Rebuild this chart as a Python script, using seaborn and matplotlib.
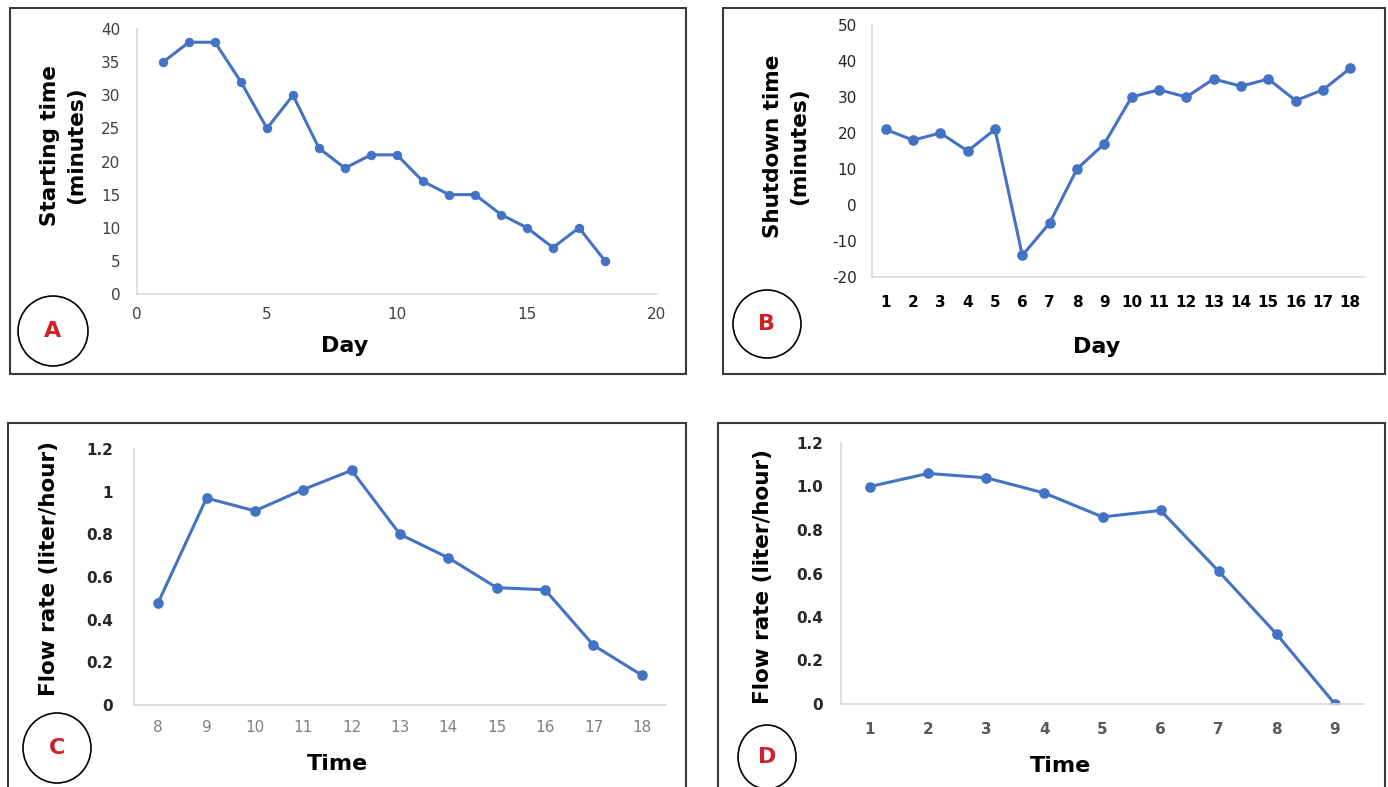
import matplotlib
matplotlib.use('Agg')
import matplotlib.pyplot as plt
from matplotlib.patches import Rectangle, Ellipse
import seaborn as sns

# A: starting time per day
days_a = list(range(1, 19))
start_min = [35, 38, 38, 32, 25, 30, 22, 19, 21, 21, 17, 15, 15, 12, 10, 7, 10, 5]

# B: shutdown time per day
days_b = [str(d) for d in range(1, 19)]
shutdown_min = [21, 18, 20, 15, 21, -14, -5, 10, 17, 30, 32, 30, 35, 33, 35, 29, 32, 38]

# C: flow rate by hour of day
hours_c = [str(h) for h in range(8, 19)]
flow_c = [0.48, 0.97, 0.91, 1.01, 1.10, 0.80, 0.69, 0.55, 0.54, 0.28, 0.14]

# D: flow rate by time step
hours_d = [str(h) for h in range(1, 10)]
flow_d = [1.00, 1.06, 1.04, 0.97, 0.86, 0.89, 0.61, 0.32, 0.00]

sns.set_style('white')
plt.rcParams['font.family'] = ['DejaVu Sans']
plt.rcParams['axes.unicode_minus'] = False

W, H = 1388, 787
BLUE = '#4472C4'
RED = '#D0202A'
AXIS_GREY = '#D9D9D9'
YLAB = dict(fontsize=15.5, fontweight='bold', linespacing=1.35, color='black')
XLAB = dict(fontsize=16, fontweight='bold', color='black')

fig = plt.figure(figsize=(W / 100, H / 100), dpi=100)


# pixel box (from top-left) -> figure fraction rect
def box(x0, y0, x1, y1):
    return [x0 / W, 1 - y1 / H, (x1 - x0) / W, (y1 - y0) / H]


def frame(x0, y0, x1, y1):
    fig.patches.append(Rectangle((x0 / W, 1 - y1 / H), (x1 - x0) / W, (y1 - y0) / H,
                                 transform=fig.transFigure, fill=False,
                                 edgecolor='#3a3a3a', linewidth=1.5))


def badge(cx, cy, w, h, letter):
    fig.patches.append(Ellipse((cx / W, 1 - cy / H), w / W, h / H,
                               transform=fig.transFigure, fill=False,
                               edgecolor='black', linewidth=1.2))
    fig.text(cx / W, 1 - cy / H, letter, color=RED, fontsize=16, fontweight='bold',
             ha='center', va='center')


def style(ax):
    sns.despine(ax=ax)
    for s in ['left', 'bottom']:
        ax.spines[s].set_color(AXIS_GREY)
        ax.spines[s].set_linewidth(1.2)
    ax.grid(False)


# panel frames
frame(10, 8, 686, 374)
frame(723, 8, 1385, 374)
frame(8, 423, 686, 795)
frame(718, 423, 1385, 795)

# ---------------- A ----------------
axA = fig.add_axes(box(137, 29, 657, 294))
sns.lineplot(x=days_a, y=start_min, ax=axA, color=BLUE, marker='o', markersize=6,
             linewidth=2.2, markeredgecolor=BLUE)
style(axA)
axA.set_xlim(0, 20)
axA.set_ylim(0, 40)
axA.set_xticks([0, 5, 10, 15, 20])
axA.set_yticks(range(0, 41, 5))
axA.tick_params(axis='y', length=0, pad=12, labelsize=11, labelcolor='#404040')
axA.tick_params(axis='x', length=0, pad=9, labelsize=11, labelcolor='#404040')
axA.set_ylabel('Starting time\n(minutes)', **YLAB)
axA.yaxis.set_label_coords(-0.098, 0.56)
axA.set_xlabel('Day', **XLAB)
axA.xaxis.set_label_coords(0.40, -0.16)
badge(53, 331, 70, 70, 'A')

# ---------------- B ----------------
axB = fig.add_axes(box(872, 25, 1364, 277))
sns.pointplot(x=days_b, y=shutdown_min, ax=axB, color=BLUE, markers='o',
              markersize=6, linewidth=2.2)
style(axB)
axB.set_xlim(-0.5, len(days_b) - 0.5)
axB.set_ylim(-20, 50)
axB.set_yticks(range(-20, 51, 10))
axB.tick_params(axis='y', length=0, pad=11, labelsize=11, labelcolor='#262626')
axB.tick_params(axis='x', length=0, pad=13, labelsize=11, labelcolor='black')
for t in axB.get_xticklabels():
    t.set_fontweight('bold')
axB.set_ylabel('Shutdown time\n(minutes)', **YLAB)
axB.yaxis.set_label_coords(-0.128, 0.52)
axB.set_xlabel('Day', **XLAB)
axB.xaxis.set_label_coords(0.457, -0.24)
badge(767, 324, 68, 68, 'B')

# ---------------- C ----------------
axC = fig.add_axes(box(134, 449, 666, 705))
sns.pointplot(x=hours_c, y=flow_c, ax=axC, color=BLUE, markers='o',
              markersize=6, linewidth=2.2)
style(axC)
axC.set_xlim(-0.5, len(hours_c) - 0.5)
axC.set_ylim(0, 1.2)
axC.set_yticks([0, 0.2, 0.4, 0.6, 0.8, 1.0, 1.2])
axC.set_yticklabels(['0', '0.2', '0.4', '0.6', '0.8', '1', '1.2'])
axC.tick_params(axis='y', length=0, pad=15, labelsize=11, labelcolor='#262626')
axC.tick_params(axis='x', length=0, pad=11, labelsize=11, labelcolor='#808080')
for t in axC.get_yticklabels():
    t.set_fontweight('bold')
axC.set_ylabel('Flow rate (liter/hour)', **YLAB)
axC.yaxis.set_label_coords(-0.141, 0.535)
axC.set_xlabel('Time', **XLAB)
axC.xaxis.set_label_coords(0.383, -0.19)
badge(57, 748, 68, 70, 'C')

# ---------------- D ----------------
axD = fig.add_axes(box(841, 443, 1364, 704))
sns.pointplot(x=hours_d, y=flow_d, ax=axD, color=BLUE, markers='o',
              markersize=6, linewidth=2.2)
style(axD)
axD.set_xlim(-0.5, len(hours_d) - 0.5)
axD.set_ylim(0, 1.2)
axD.set_yticks([0, 0.2, 0.4, 0.6, 0.8, 1.0, 1.2])
axD.set_yticklabels(['0', '0.2', '0.4', '0.6', '0.8', '1.0', '1.2'])
axD.tick_params(axis='y', length=0, pad=13, labelsize=11, labelcolor='#262626')
axD.tick_params(axis='x', length=0, pad=13, labelsize=11, labelcolor='#595959')
for t in axD.get_yticklabels() + axD.get_xticklabels():
    t.set_fontweight('bold')
axD.set_ylabel('Flow rate (liter/hour)', **YLAB)
axD.yaxis.set_label_coords(-0.13, 0.49)
axD.set_xlabel('Time', **XLAB)
axD.xaxis.set_label_coords(0.419, -0.2)
badge(767, 757, 58, 64, 'D')

fig.savefig('out.png', dpi=100)
